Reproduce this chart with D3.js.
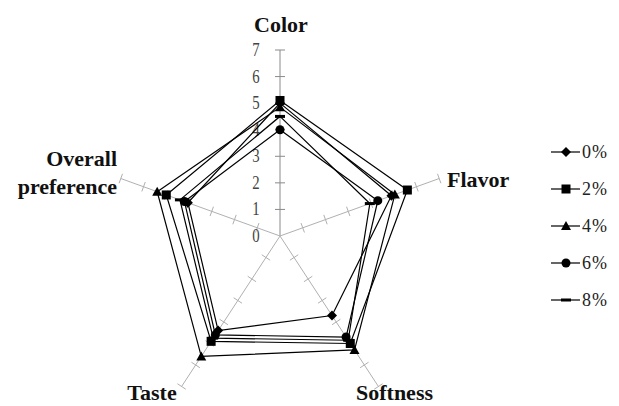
<!DOCTYPE html>
<html><head><meta charset="utf-8">
<script src="https://cdn.jsdelivr.net/npm/d3@7"></script>
<style>body{margin:0;background:#fff}</style>
</head><body><svg id="c" width="619" height="406"></svg>
<script>
const axes = ["Color", "Flavor", "Softness", "Taste", "Overall preference"];
const seriesNames = ["0%", "2%", "4%", "6%", "8%"];
const s0 = [5.0, 4.9, 3.7, 4.4, 4.05];
const s2 = [5.1, 5.6, 5.0, 4.9, 5.0];
const s4 = [4.85, 5.05, 5.3, 5.6, 5.4];
const s6 = [4.0, 4.3, 4.7, 4.6, 4.2];
const s8 = [4.5, 3.95, 4.85, 4.75, 4.4];
const tickLabels = [0, 1, 2, 3, 4, 5, 6, 7];
const markers = ["diamond", "square", "triangle", "circle", "dash"];

const series = [s0, s2, s4, s6, s8];
const svg = d3.select("#c");
const cx = 280, cy = 236, kx = 0.9;
const r = d3.scaleLinear().domain([0, 7]).range([0, 186]);
const ang = d3.scalePoint().domain(axes).range([0, 2 * Math.PI * 4 / 5]);
function pt(axis, v) {
  const a = ang(axis), rr = r(v);
  return [cx + kx * rr * Math.sin(a), cy - rr * Math.cos(a)];
}
const serif = "'Liberation Serif','Times New Roman',serif";

// axes
const axG = svg.append("g");
axes.forEach((ax, i) => {
  const e = pt(ax, 7);
  const col = i === 0 ? "#8a8a8a" : "#b0b0b0";
  axG.append("line").attr("x1", cx).attr("y1", cy).attr("x2", e[0]).attr("y2", e[1])
    .attr("stroke", col).attr("stroke-width", 1);
  const dx = e[0] - cx, dy = e[1] - cy, L = Math.hypot(dx, dy);
  const px = -dy / L, py = dx / L;
  tickLabels.slice(1).forEach(t => {
    const p = pt(ax, t), h = 5;
    axG.append("line").attr("x1", p[0] - px * h).attr("y1", p[1] - py * h)
      .attr("x2", p[0] + px * h).attr("y2", p[1] + py * h)
      .attr("stroke", col).attr("stroke-width", 1);
  });
});
// tick labels on Color axis
tickLabels.forEach(t => {
  const p = pt("Color", t);
  const x = p[0] - 24;
  svg.append("text").attr("x", x).attr("y", p[1] + 6)
    .attr("text-anchor", "middle").attr("font-family", serif).attr("font-size", 19)
    .attr("fill", "#444").attr("transform", `translate(${x},0) scale(0.78,1) translate(${-x},0)`)
    .text(t);
});

// polygons
const line = d3.line().curve(d3.curveLinearClosed);
series.forEach((s, k) => {
  svg.append("path").attr("d", line(axes.map((a, i) => pt(a, s[i]))))
    .attr("fill", "none").attr("stroke", "#000").attr("stroke-width", 1.2);
});
function drawMarker(g, type, x, y) {
  if (type === "diamond") g.append("path").attr("d", `M${x},${y-5}L${x+5},${y}L${x},${y+5}L${x-5},${y}Z`).attr("fill", "#000");
  else if (type === "square") g.append("rect").attr("x", x - 4.5).attr("y", y - 4.5).attr("width", 9).attr("height", 9).attr("fill", "#000");
  else if (type === "triangle") g.append("path").attr("d", `M${x},${y-5}L${x+5},${y+4}L${x-5},${y+4}Z`).attr("fill", "#000");
  else if (type === "circle") g.append("circle").attr("cx", x).attr("cy", y).attr("r", 4.5).attr("fill", "#000");
  else g.append("rect").attr("x", x - 5).attr("y", y - 1.5).attr("width", 10).attr("height", 3).attr("fill", "#000");
}
series.forEach((s, k) => {
  axes.forEach((a, i) => { const p = pt(a, s[i]); drawMarker(svg, markers[k], p[0], p[1]); });
});

// axis titles
function title(x, y, txt, anchor) {
  svg.append("text").attr("x", x).attr("y", y).attr("text-anchor", anchor)
    .attr("font-family", serif).attr("font-size", 22).attr("font-weight", "bold")
    .attr("fill", "#111").text(txt);
}
title(281, 32, "Color", "middle");
title(447, 187, "Flavor", "start");
title(356, 400, "Softness", "start");
title(152, 400, "Taste", "middle");
title(117, 166, "Overall", "end");
title(117, 194, "preference", "end");

// legend
const lg = svg.append("g");
seriesNames.forEach((n, k) => {
  const y = 152 + k * 37;
  lg.append("line").attr("x1", 551).attr("x2", 580).attr("y1", y).attr("y2", y).attr("stroke", "#000").attr("stroke-width", 1.2);
  drawMarker(lg, markers[k], 566, y);
  lg.append("text").attr("x", 582).attr("y", y + 6).attr("font-family", serif).attr("font-size", 18)
    .attr("letter-spacing", 1).attr("fill", "#222").text(n);
});
</script></body></html>
